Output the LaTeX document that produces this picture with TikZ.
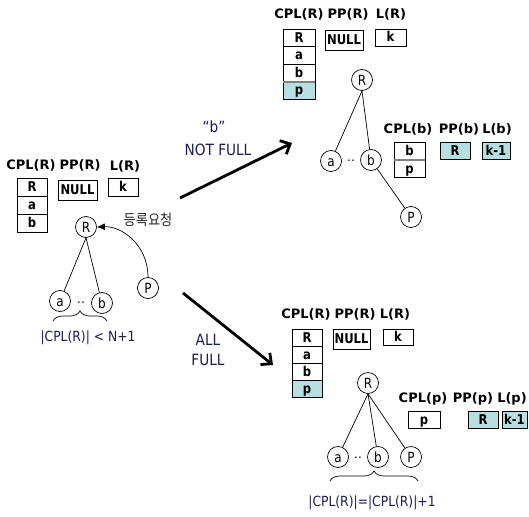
\documentclass[tikz,border=0pt]{standalone}
\usepackage{fontspec}
\setmainfont{DejaVu Sans}
\newfontfamily\cellfont[FakeStretch=0.86]{DejaVu Sans}
\newfontfamily\labfont[FakeStretch=0.88]{DejaVu Sans}
\newfontfamily\kofont[FakeStretch=0.88]{Noto Sans CJK KR}
\usetikzlibrary{arrows.meta,decorations.pathreplacing}
\definecolor{tealfill}{RGB}{183,222,224}
\definecolor{navytext}{RGB}{25,30,80}
\tikzset{
  hd/.style={font=\fontsize{13}{14}\selectfont\bfseries, inner sep=0},
  cell/.style={draw, line width=0.9pt, inner sep=0, text height=11pt, text depth=2pt,
    font=\cellfont\bfseries\fontsize{13.5}{15}\selectfont},
  tcell/.style={cell, fill=tealfill},
  tnode/.style={circle, draw, line width=0.7pt, minimum size=21pt, inner sep=0,
    text height=10pt, text depth=0pt, font=\cellfont\fontsize{14}{14}\selectfont},
  edge/.style={line width=0.7pt},
  big/.style={line width=2.8pt, -{Straight Barb[length=8pt,width=15pt]}},
  lab/.style={font=\labfont\fontsize{15.5}{18}\selectfont, text=navytext, inner sep=0},
  captext/.style={font=\labfont\fontsize{14}{16}\selectfont, text=navytext, inner sep=0},
  brc/.style={decorate, decoration={brace, amplitude=10pt}, line width=0.7pt},
  dotsn/.style={font=\fontsize{12}{12}\selectfont, inner sep=0},
  sepline/.style={draw=gray, line width=2pt}
}
\begin{document}
\begin{tikzpicture}[x=1pt,y=-1pt]
\useasboundingbox (0,0) rectangle (529,516);

% ---------------- left group ----------------
\node[hd] (lh1) at (31,165) {CPL(R)};
\node[hd] (lh2) at (80,165) {PP(R)};
\node[hd] (lh3) at (125,166) {L(R)};
\node[cell, minimum width=30pt, minimum height=18pt] (lc1) at (32,187) {R};
\node[cell, minimum width=30pt, minimum height=18pt] (lc2) at (32,205) {a};
\node[cell, minimum width=30pt, minimum height=18pt] (lc3) at (32,223) {b};
\node[cell, minimum width=39pt, minimum height=20pt] (lpp) at (77.5,190) {NULL};
\node[cell, minimum width=30pt, minimum height=18pt] (ll) at (123,187) {k};

\node[tnode] (lR) at (86,227) {R};
\node[tnode] (la) at (60,301) {a};
\node[tnode] (lb) at (102,303) {b};
\node[tnode] (lP) at (148,288) {P};
\draw[edge] (lR.south) -- (la);
\draw[edge] (lR.south) -- (lb);
\node[dotsn] (ld) at (81,303) {..};
\draw[edge, -{Latex[length=8pt,width=7pt]}] (lP.north) .. controls (148,245) and (122,226) .. (lR.east);
\node[font=\kofont\fontsize{15}{16}\selectfont, text=black!85, inner sep=0] (req) at (148,220) {등록요청};
\coordinate (lbr1) at (53,321);
\coordinate (lbr2) at (107,321);
\draw[brc] (lbr1) -- (lbr2);
\node[captext] (lcap) at (88,338) {|CPL(R)| < N+1};

% ---------------- arrows ----------------
\coordinate (ua1) at (180,198);
\coordinate (ua2) at (292,143);
\draw[big] (ua1) -- (ua2);
\node[lab] (qb) at (214,127) {“b”};
\node[lab] (nf) at (218,150) {NOT FULL};
\coordinate (da1) at (183,293);
\coordinate (da2) at (273,365);
\draw[big] (da1) -- (da2);
\node[lab] (al) at (208,340) {ALL};
\node[lab] (fu) at (208,360) {FULL};

% ---------------- top right group ----------------
\node[hd] (th1) at (299,14) {CPL(R)};
\node[hd] (th2) at (348,14) {PP(R)};
\node[hd] (th3) at (391,14) {L(R)};
\node[cell, minimum width=32pt, minimum height=17.5pt] (tc1) at (299,38) {R};
\node[cell, minimum width=32pt, minimum height=17.5pt] (tc2) at (299,55.5) {a};
\node[cell, minimum width=32pt, minimum height=17.5pt] (tc3) at (299,73) {b};
\node[tcell, minimum width=32pt, minimum height=17.5pt] (tc4) at (299,90.5) {p};
\draw[sepline] (tc3.south west) -- (tc3.south east);
\node[cell, minimum width=38pt, minimum height=20pt] (tpp) at (344,40) {NULL};
\node[cell, minimum width=31pt, minimum height=17pt] (tl) at (390.5,37.5) {k};

\node[tnode] (tR) at (362,80) {R};
\node[tnode] (ta) at (331,161) {a};
\node[tnode] (tb) at (371,160) {b};
\node[tnode] (tP) at (411,217) {P};
\draw[edge] (tR.south) -- (ta);
\draw[edge] (tR.south) -- (tb);
\draw[edge] (tb) -- (tP);
\node[dotsn] (td) at (351,161) {..};

\node[hd] (bh1) at (408,129) {CPL(b)};
\node[hd] (bh2) at (459,129) {PP(b)};
\node[hd] (bh3) at (497,129) {L(b)};
\node[cell, minimum width=31pt, minimum height=18pt] (bc1) at (409.5,151) {b};
\node[cell, minimum width=31pt, minimum height=17.5pt] (bc2) at (409.5,168.75) {p};
\draw[sepline] (bc1.south west) -- (bc1.south east);
\node[tcell, minimum width=30pt, minimum height=17pt] (bpp) at (455,150.5) {R};
\node[tcell, minimum width=28pt, minimum height=17pt] (bl) at (496,150.5) {k-1};

% ---------------- bottom right group ----------------
\node[hd] (rh1) at (306,314) {CPL(R)};
\node[hd] (rh2) at (355,314) {PP(R)};
\node[hd] (rh3) at (395,314) {L(R)};
\node[cell, minimum width=30pt, minimum height=17pt] (rc1) at (307,337.5) {R};
\node[cell, minimum width=30pt, minimum height=17pt] (rc2) at (307,354.5) {a};
\node[cell, minimum width=30pt, minimum height=17pt] (rc3) at (307,371.5) {b};
\node[tcell, minimum width=30pt, minimum height=17pt] (rc4) at (307,388.5) {p};
\node[cell, minimum width=37pt, minimum height=20pt] (rpp) at (351.5,339) {NULL};
\node[cell, minimum width=30pt, minimum height=16pt] (rl) at (398,337) {k};

\node[tnode] (rR) at (368,383) {R};
\node[tnode] (ra) at (338,457) {a};
\node[tnode] (rb) at (378,457) {b};
\node[tnode] (rP) at (411,457) {P};
\draw[edge] (rR.south) -- (ra);
\draw[edge] (rR.south) -- (rb);
\draw[edge] (rR.south) -- (rP);
\node[dotsn] (rd) at (358,458) {..};
\coordinate (rbr1) at (330,481);
\coordinate (rbr2) at (418,481);
\draw[brc] (rbr1) -- (rbr2);
\node[captext] (rcap) at (372,503) {|CPL(R)|=|CPL(R)|+1};

\node[hd] (ph1) at (423,399) {CPL(p)};
\node[hd] (ph2) at (473,399) {PP(p)};
\node[hd] (ph3) at (512,399) {L(p)};
\node[cell, minimum width=32pt, minimum height=17pt] (pc1) at (424,419.5) {p};
\node[tcell, minimum width=30pt, minimum height=17pt] (ppp) at (483,419.5) {R};
\node[tcell, minimum width=25pt, minimum height=17pt] (pl) at (514.5,419.5) {k-1};
\end{tikzpicture}
\end{document}
